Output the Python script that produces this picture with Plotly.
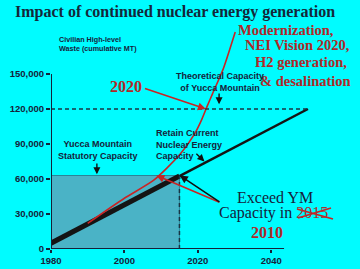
import plotly.graph_objects as go

# ---------------- data ----------------
x_ticks = [1980, 2000, 2020, 2040]
y_ticks = [0, 30000, 60000, 90000, 120000, 150000]
y_tick_text = ["0", "30,000", "60,000", "90,000", "120,000", "150,000"]

# current nuclear capacity (cumulative MT)
base_years_early = [1980, 2015]
base_vals_early = [5000, 62500]
base_years_late = [2015, 2050]
base_vals_late = [62500, 120000]

# modernization / growth scenario
growth_years = [1990, 2000, 2008, 2015, 2019, 2021, 2022.5, 2024, 2027, 2030.2]
growth_vals = [22000, 43500, 59000, 80500, 98000, 110500, 122000, 133000, 155000, 186000]

statutory_capacity = 63000
theoretical_capacity = 120000
statutory_end_year = 2015
theoretical_end_year = 2050
x_axis_end = 2043.5

# ---------------- layout helpers (pixel -> paper for free text) ----------------
L, R, T, B = 51, 10, 9, 20
W, H = 360, 269
PW, PH = W - L - R, H - T - B
XPX = 3.67  # px per year
x_range = [1980, 1980 + PW / XPX]
y_range = [0, PH / 175 * 150000]


def px(x):
    return (x - L) / PW


def py(y):
    return (H - B - y) / PH


DARK = "#16223A"
RED = "#B02828"
BG = "#00FCFF"
SANS = "Liberation Sans, Arial, sans-serif"
SERIF = "Liberation Serif, Times New Roman, serif"

fig = go.Figure()

fig.add_trace(go.Scatter(x=base_years_early, y=base_vals_early, mode="lines",
                         line=dict(color="#141414", width=5), hoverinfo="skip"))
fig.add_trace(go.Scatter(x=base_years_late, y=base_vals_late, mode="lines",
                         line=dict(color="#141414", width=2.5), hoverinfo="skip"))
fig.add_trace(go.Scatter(x=growth_years, y=growth_vals, mode="lines",
                         line=dict(color="#C82424", width=1.6, shape="spline", smoothing=0.6),
                         hoverinfo="skip"))

shapes = [
    # statutory capacity box
    dict(type="rect", xref="x", yref="y", x0=1980, x1=statutory_end_year, y0=0, y1=statutory_capacity,
         fillcolor="#4AB3C6", line=dict(color="#2A8496", width=1), layer="below"),
    # dashed theoretical capacity line
    dict(type="line", xref="x", yref="y", x0=1980, x1=theoretical_end_year,
         y0=theoretical_capacity, y1=theoretical_capacity,
         line=dict(color="#1A3444", width=1.5, dash="4px,3px")),
    # dashed vertical at 2015
    dict(type="line", xref="x", yref="y", x0=statutory_end_year, x1=statutory_end_year,
         y0=0, y1=statutory_capacity, line=dict(color="#1A3444", width=1.5, dash="4px,3px")),
    # axis lines
    dict(type="line", xref="x", yref="y", x0=1980, x1=1980, y0=0, y1=150000,
         line=dict(color=DARK, width=2)),
    dict(type="line", xref="x", yref="y", x0=1980, x1=x_axis_end, y0=0, y1=0,
         line=dict(color=DARK, width=2)),
    # red cross over "2015"
    dict(type="line", xref="paper", yref="paper", x0=px(297), x1=px(333), y0=py(209), y1=py(219),
         line=dict(color="#D02020", width=1.8)),
    dict(type="line", xref="paper", yref="paper", x0=px(298), x1=px(331), y0=py(218), y1=py(208),
         line=dict(color="#D02020", width=1.8)),
]

ann = []


def text(x, y, s, size, color, family, xanchor="center", bold=True):
    ann.append(dict(xref="paper", yref="paper", x=px(x), y=py(y), text=s, showarrow=False,
                    xanchor=xanchor, yanchor="middle", align=xanchor if xanchor != "center" else "center",
                    font=dict(size=size, color=color, family=family,
                              weight="bold" if bold else "normal")))


def arrow(x, y, ax, ay, color, width=1.4, head=2):
    ann.append(dict(xref="x", yref="y", axref="x", ayref="y", x=x, y=y, ax=ax, ay=ay,
                    text="", showarrow=True, arrowhead=head, arrowsize=1, arrowwidth=width,
                    arrowcolor=color, standoff=0, startstandoff=0))


text(13, 12, "Impact of continued nuclear energy generation", 16, "#14283A", SERIF, xanchor="left")
text(57, 44, "Civilian High-level<br>Waste (cumulative MT)", 7.2, DARK, SANS, xanchor="left")
text(285.5, 30, "Modernization,", 14.5, RED, SERIF)
text(297.5, 45, "NEI Vision 2020,", 14.5, RED, SERIF)
text(301, 62, "H2 generation,", 14.5, RED, SERIF)
text(305.5, 81, "& desalination", 14.5, RED, SERIF)
text(126, 86, "2020", 16, RED, SERIF)
text(219.5, 82, "Theoretical Capacity<br>of Yucca Mountain", 9, DARK, SANS)
text(98, 150, "Yucca Mountain<br>Statutory Capacity", 9, DARK, SANS)
text(154, 144, "Retain Current<br>Nuclear Energy<br>Capacity", 9, DARK, SANS, xanchor="left")
text(275, 197, "Exceed YM", 16, DARK, SERIF, bold=False)
text(273.5, 213, "Capacity in <span style='color:#A83030'>2015</span>", 16, DARK, SERIF, bold=False)
text(267, 232, "2010", 16, RED, SERIF)

# arrows (data coordinates)
arrow(2022.2, theoretical_capacity, 2005.2, 138000, "#C82424", width=1.6)
arrow(2025.8, 124000, 2025.8, 134500, "#101010", width=1.4)
arrow(1992.5, 64000, 1992.5, 74500, "#101010", width=1.4)
arrow(2021.8, 75000, 2019.2, 83000, "#101010", width=1.4)
arrow(2008.7, statutory_capacity, 2026.3, 39500, "#C82424", width=1.6)
arrow(2015.1, statutory_capacity, 2026.3, 39500, "#101010", width=1.6)

fig.update_layout(
    width=W, height=H,
    margin=dict(l=L, r=R, t=T, b=B, autoexpand=False),
    paper_bgcolor=BG, plot_bgcolor=BG,
    showlegend=False,
    shapes=shapes,
    annotations=ann,
    xaxis=dict(range=x_range, tickvals=x_ticks, showgrid=False, zeroline=False, showline=False,
               automargin=False,
               ticks="outside", ticklen=3, tickwidth=1.5, tickcolor=DARK, ticklabelstandoff=0,
               tickfont=dict(family=SANS, size=9.5, color=DARK, weight="bold")),
    yaxis=dict(range=y_range, tickvals=y_ticks, ticktext=y_tick_text, showgrid=False,
               automargin=False,
               zeroline=False, showline=False, ticks="outside", ticklen=4, tickwidth=1.5,
               tickcolor=DARK,
               tickfont=dict(family=SANS, size=9.5, color=DARK, weight="bold")),
)

fig.write_html("out.html")
